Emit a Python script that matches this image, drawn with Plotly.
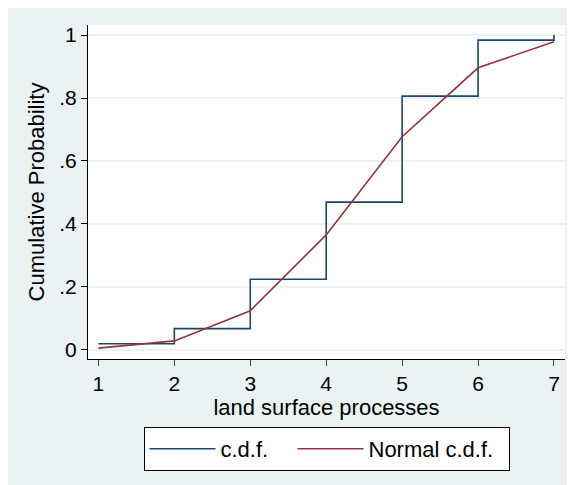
import plotly.graph_objects as go

x_vals = [1, 2, 3, 4, 5, 6, 7]
cdf_vals = [0.019, 0.067, 0.224, 0.469, 0.806, 0.984, 1.0]
normal_cdf_vals = [0.005, 0.028, 0.124, 0.365, 0.677, 0.896, 0.979]
y_tick_vals = [0, 0.2, 0.4, 0.6, 0.8, 1.0]
y_tick_text = ["0", ".2", ".4", ".6", ".8", "1"]
x_tick_vals = [1, 2, 3, 4, 5, 6, 7]

BG = "#EAF2F3"
NAVY = "#1A476F"
MAROON = "#90353B"
FONT = "Liberation Sans, Arial, sans-serif"

fig = go.Figure()
fig.add_trace(go.Scatter(x=x_vals, y=cdf_vals, mode="lines", name="c.d.f.",
                         legendwidth=67,
                         line=dict(color=NAVY, width=1.6, shape="hv")))
fig.add_trace(go.Scatter(x=x_vals, y=normal_cdf_vals, mode="lines", name="Normal c.d.f.",
                         legendwidth=135,
                         line=dict(color=MAROON, width=1.6)))

# page has an 8px body margin; figure coordinates are screen coords minus 8
W, H = 567, 477
ml, mr, mt, mb = 80, 10, 17, 126
pw, ph = W - ml - mr, H - mt - mb

def px_y(p):
    # screen pixel -> paper y
    return (H - mb - (p - 8)) / ph

fig.update_layout(
    width=W, height=H,
    margin=dict(l=ml, r=mr, t=mt, b=mb),
    paper_bgcolor=BG, plot_bgcolor="white",
    font=dict(family=FONT, color="black", size=21),
    showlegend=True,
    legend=dict(orientation="h", x=0.5, xanchor="center", y=px_y(427), yanchor="top",
                bgcolor="white", bordercolor="black", borderwidth=1,
                font=dict(size=22), itemwidth=66),
    xaxis=dict(range=[0.863, 7.145], tickvals=x_tick_vals, showgrid=False, zeroline=False,
               showline=True, linecolor="black", linewidth=1, ticks="outside", ticklen=6,
               tickcolor="#444", tickfont=dict(size=21),
               title=dict(text="land surface processes", font=dict(size=22), standoff=0)),
    yaxis=dict(range=[-0.0295, 1.032], tickvals=y_tick_vals, ticktext=y_tick_text,
               showgrid=True, gridcolor=BG, gridwidth=1.5, zeroline=False,
               showline=True, linecolor="black", linewidth=1, ticks="outside", ticklen=6,
               tickcolor="black", tickfont=dict(size=21),
               title=dict(text="Cumulative Probability", font=dict(size=22), standoff=8)),
)

fig.write_html("out.html")
